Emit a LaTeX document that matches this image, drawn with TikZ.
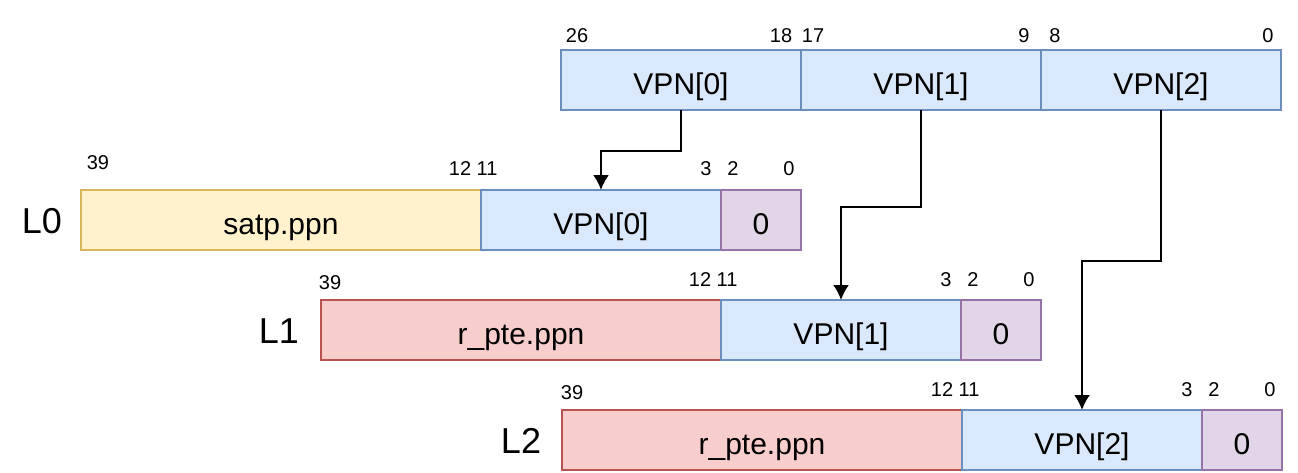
\documentclass[tikz,border=0pt]{standalone}
\usepackage{fontspec}
\setmainfont{Liberation Sans}
\usepackage{color}
\usetikzlibrary{positioning}
\usetikzlibrary{arrows.meta}
\definecolor{vpnfill}{HTML}{DAE8FC}
\definecolor{vpnline}{HTML}{6C8EBF}
\definecolor{satpfill}{HTML}{FFF2CC}
\definecolor{satpline}{HTML}{D6B656}
\definecolor{ptefill}{HTML}{F8CECC}
\definecolor{pteline}{HTML}{B85450}
\definecolor{zerofill}{HTML}{E1D5E7}
\definecolor{zeroline}{HTML}{9673A6}

\begin{document}
\begin{tikzpicture}
    [
    x=1pt, y=-1pt,
    field/.style={rectangle,draw,line width=2pt,minimum height=60pt,inner sep=0pt,outer sep=0pt,
      text height=29pt,text depth=0pt,font=\fontsize{30}{30}\selectfont},
    vpn/.style={field,fill=vpnfill,draw=vpnline,minimum width=240pt},
    satp/.style={field,fill=satpfill,draw=satpline,minimum width=400pt},
    pte/.style={field,fill=ptefill,draw=pteline,minimum width=400pt},
    zero/.style={field,fill=zerofill,draw=zeroline,minimum width=80pt},
    bit/.style={inner sep=0pt,font=\fontsize{20}{20}\selectfont},
    lvl/.style={inner sep=0pt,font=\fontsize{36}{36}\selectfont},
    link/.style={-{Latex[length=15pt,width=16pt]},line width=2pt},
    ]
    \useasboundingbox (0,0) rectangle (1298,472);

    \node (v0) at (681,80) [vpn] {VPN[0]};
    \node (v1) [vpn, right=0pt of v0] {VPN[1]};
    \node (v2) [vpn, right=0pt of v1] {VPN[2]};
    \node (t26) at (577,36) [bit] {26};
    \node (t18) at (781,36) [bit] {18};
    \node (t17) at (813,36) [bit] {17};
    \node (t9) at (1024,36) [bit] {9};
    \node (t8) at (1055,36) [bit] {8};
    \node (t0) at (1268,36) [bit] {0};

    \node (p0) at (281,220) [satp] {satp.ppn};
    \node (a0) [vpn, right=0pt of p0] {VPN[0]};
    \node (z0) [zero, right=0pt of a0] {0};
    \node (lv0) at (42,221) [lvl] {L0};
    \node (b0h) at (98,163) [bit] {39};
    \node (b0a) at (460,169) [bit] {12};
    \node (b0b) at (487,169) [bit] {11};
    \node (b0c) at (706,169) [bit] {3};
    \node (b0d) at (733,169) [bit] {2};
    \node (b0e) at (789,169) [bit] {0};

    \node (p1) at (521,330) [pte] {r\_pte.ppn};
    \node (a1) [vpn, right=0pt of p1] {VPN[1]};
    \node (z1) [zero, right=0pt of a1] {0};
    \node (lv1) at (279,331) [lvl] {L1};
    \node (b1h) at (330,283) [bit] {39};
    \node (b1a) at (700,280) [bit] {12};
    \node (b1b) at (727,280) [bit] {11};
    \node (b1c) at (946,280) [bit] {3};
    \node (b1d) at (973,280) [bit] {2};
    \node (b1e) at (1029,280) [bit] {0};

    \node (p2) at (762,440) [pte] {r\_pte.ppn};
    \node (a2) [vpn, right=0pt of p2] {VPN[2]};
    \node (z2) [zero, right=0pt of a2] {0};
    \node (lv2) at (521,441) [lvl] {L2};
    \node (b2h) at (572,393) [bit] {39};
    \node (b2a) at (942,390) [bit] {12};
    \node (b2b) at (969,390) [bit] {11};
    \node (b2c) at (1187,390) [bit] {3};
    \node (b2d) at (1214,390) [bit] {2};
    \node (b2e) at (1270,390) [bit] {0};

    \draw [link] (v0.south) -- ++(0,41) -| (a0.north);
    \draw [link] (v1.south) -- ++(0,97) -| (a1.north);
    \draw [link] (v2.south) -- ++(0,151) -| (a2.north);
\end{tikzpicture}
\end{document}
